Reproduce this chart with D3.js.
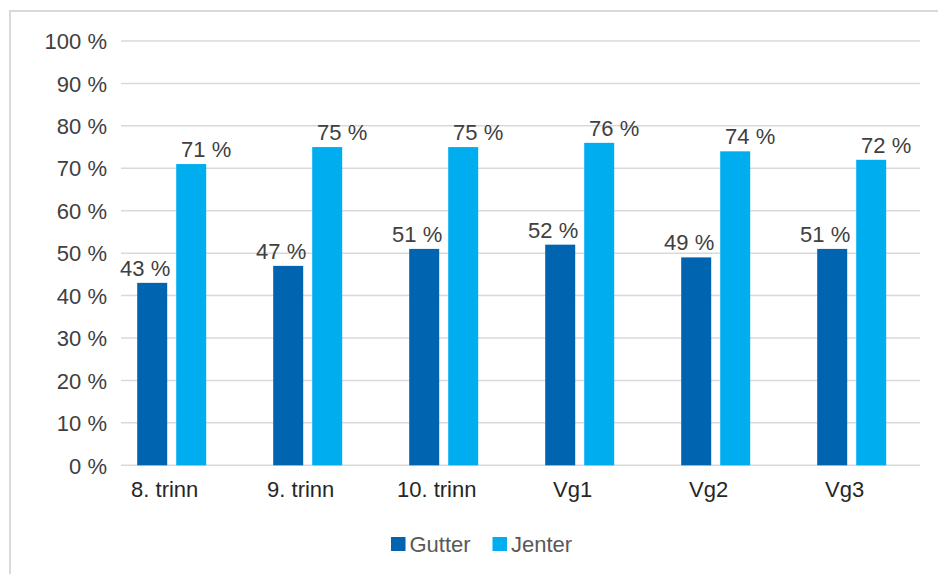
<!DOCTYPE html>
<html lang="no">
<head>
<meta charset="utf-8">
<title>Gutter og jenter</title>
<script src="https://cdn.jsdelivr.net/npm/d3@7"></script>
<style>
  body { margin: 0; background: #fff; }
  svg text { font-family: "Liberation Sans", Arial, sans-serif; }
</style>
</head>
<body>
<svg width="938" height="574"></svg>
<script>
// data
var trinn = ["8. trinn", "9. trinn", "10. trinn", "Vg1", "Vg2", "Vg3"];
var serier = ["Gutter", "Jenter"];
var gutter = [43, 47, 51, 52, 49, 51];
var jenter = [71, 75, 75, 76, 74, 72];
var yTicks = [0, 10, 20, 30, 40, 50, 60, 70, 80, 90, 100];

var farger = { "Gutter": "#0064b0", "Jenter": "#00aeef" };
var verdier = { "Gutter": gutter, "Jenter": jenter };
var skrift = "22px";

var svg = d3.select("svg");

// ramme rundt diagrammet
svg.append("rect")
  .attr("x", 10).attr("y", 11)
  .attr("width", 960).attr("height", 600)
  .attr("fill", "none")
  .attr("stroke", "#d9d9d9")
  .attr("stroke-width", 2);

var y = d3.scaleLinear().domain([0, 100]).range([465.3, 41]);

var x0 = d3.scaleBand().domain(trinn).range([103.7, 919.7]);
var bw = x0.bandwidth();
var x1 = d3.scaleBand().domain(serier)
  .range([bw / 2 - 34.5, bw / 2 + 34.5])
  .paddingInner(0.2308);

// rutenett
svg.append("g")
  .selectAll("line")
  .data(yTicks)
  .enter()
  .append("line")
    .attr("x1", 121).attr("x2", 920)
    .attr("y1", function (d) { return y(d); })
    .attr("y2", function (d) { return y(d); })
    .attr("stroke", "#d9d9d9")
    .attr("stroke-width", 1.5);

// y-akse
var yAkse = d3.axisLeft(y)
  .tickValues(yTicks)
  .tickSize(0)
  .tickPadding(0)
  .tickFormat(function (d) { return d + " %"; });

var gy = svg.append("g")
  .attr("transform", "translate(107,0)")
  .call(yAkse);
gy.select(".domain").remove();
gy.selectAll("text")
  .attr("dy", "0.35em")
  .style("font-size", skrift)
  .style("font-family", "'Liberation Sans', Arial, sans-serif")
  .attr("fill", "#404040");

// x-akse
var xAkse = d3.axisBottom(x0).tickSize(0).tickPadding(0);
var gx = svg.append("g")
  .attr("transform", "translate(-7,481)")
  .call(xAkse);
gx.select(".domain").remove();
gx.selectAll("text")
  .attr("dy", "0.71em")
  .style("font-size", skrift)
  .style("font-family", "'Liberation Sans', Arial, sans-serif")
  .attr("fill", "#262626");

// søyler
var grupper = svg.append("g")
  .selectAll("g.gruppe")
  .data(trinn)
  .enter()
  .append("g")
    .classed("gruppe", true)
    .attr("transform", function (d) { return "translate(" + x0(d) + ",0)"; });

serier.forEach(function (s) {
  var forskyv = s === "Gutter" ? -7 : 15;
  grupper.append("rect")
    .attr("x", x1(s))
    .attr("width", x1.bandwidth())
    .attr("y", function (d, i) { return y(verdier[s][i]); })
    .attr("height", function (d, i) { return y(0) - y(verdier[s][i]); })
    .attr("fill", farger[s]);

  grupper.append("text")
    .attr("x", x1(s) + x1.bandwidth() / 2 + forskyv)
    .attr("y", function (d, i) { return y(verdier[s][i]) - 7; })
    .attr("text-anchor", "middle")
    .style("font-size", skrift)
    .attr("fill", "#404040")
    .text(function (d, i) { return verdier[s][i] + " %"; });
});

// forklaring
var legendX = { "Gutter": 391, "Jenter": 492.5 };
var leg = svg.append("g")
  .selectAll("g")
  .data(serier)
  .enter()
  .append("g")
    .attr("transform", function (d) { return "translate(" + legendX[d] + ",537)"; });
leg.append("rect")
  .attr("width", 14.5).attr("height", 14)
  .attr("fill", function (d) { return farger[d]; });
leg.append("text")
  .attr("x", 18.5).attr("y", 14.5)
  .style("font-size", skrift)
  .attr("fill", "#595959")
  .text(function (d) { return d; });
</script>
</body>
</html>
